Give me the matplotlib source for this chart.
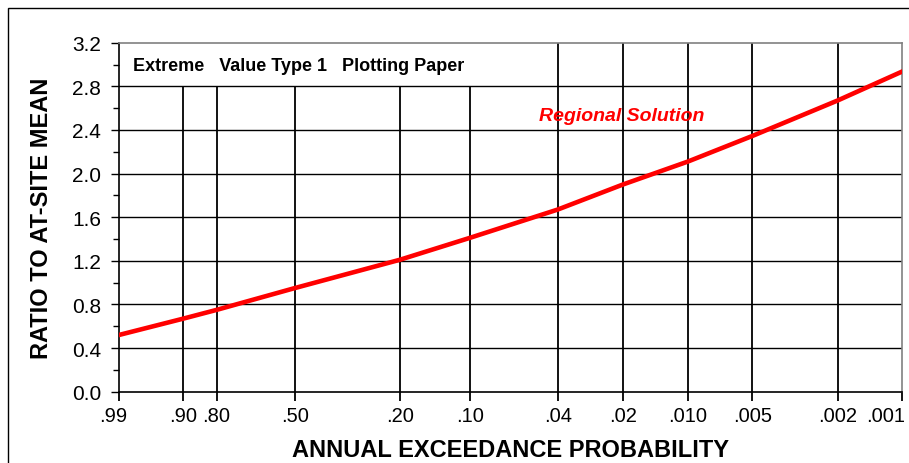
import numpy as np
import matplotlib.pyplot as plt
import matplotlib.transforms as mtransforms
from matplotlib.patches import Rectangle

plt.rcParams['font.family'] = ['Liberation Sans', 'DejaVu Sans']

# Annual exceedance probabilities shown on the paper
tick_probs = [0.99, 0.90, 0.80, 0.50, 0.20, 0.10, 0.04, 0.02, 0.010, 0.005, 0.002, 0.001]
tick_labels = ['.99', '.90', '.80', '.50', '.20', '.10', '.04', '.02', '.010', '.005', '.002', '.001']

# Regional growth curve (ratio to at-site mean) read at each probability
curve_probs = [0.99, 0.90, 0.80, 0.50, 0.20, 0.10, 0.04, 0.02, 0.010, 0.005, 0.002, 0.001]
curve_ratio = [0.52, 0.67, 0.75, 0.95, 1.21, 1.41, 1.67, 1.90, 2.11, 2.345, 2.67, 2.935]


def gumbel(p):
    """EV1 reduced variate for annual exceedance probability p."""
    p = np.asarray(p, dtype=float)
    return -np.log(-np.log(1.0 - p))


fig = plt.figure(figsize=(9.09, 4.64), dpi=100)
ax = fig.add_axes([0.1309, 0.1537, 0.8614, 0.7521])

xt = gumbel(tick_probs)
x_lo, x_hi = xt[0], xt[-1]

# horizontal grid
for yv in np.arange(0.4, 3.0, 0.4):
    ax.axhline(yv, color='black', lw=1.0, zorder=1)

# vertical grid, the left ones stop under the title box
for x, p in zip(xt[1:-1], tick_probs[1:-1]):
    top = 2.8 if p > 0.05 else 3.2
    ax.vlines(x, 0, top, color='black', lw=1.3, zorder=1)

ax.plot(gumbel(curve_probs), curve_ratio, color='#ff0000', lw=3.3, zorder=3)

ax.text(-1.376, 2.99, 'Extreme   Value Type 1   Plotting Paper', fontsize=13,
        fontweight='bold', va='center', ha='left')
ax.text(3.0, 2.53, 'Regional Solution', fontsize=14, fontweight='bold',
        fontstyle='italic', color='#ff0000', va='center', ha='left')

ax.set_xlim(x_lo, x_hi)
ax.set_ylim(0, 3.2)
ax.set_xticks(xt)
ax.set_xticklabels(tick_labels)
ax.set_yticks(np.arange(0, 3.21, 0.4))
ax.set_yticklabels([f'{v:.1f}' for v in np.arange(0, 3.21, 0.4)])
ax.set_yticks(np.arange(0.2, 3.2, 0.4), minor=True)

ax.tick_params(axis='x', direction='out', length=6.5, width=1.3, pad=4,
               labelsize=14.5)
ax.tick_params(axis='y', which='major', direction='out', length=5.8, width=1,
               pad=7, labelsize=15)
ax.tick_params(axis='y', which='minor', direction='out', length=4.3, width=1)

# nudge the end labels inward like the original
xlabels = ax.get_xticklabels()
for lab, dx in [(xlabels[0], -6), (xlabels[-1], -16)]:
    lab.set_transform(lab.get_transform() +
                      mtransforms.ScaledTranslation(dx / 100, 0, fig.dpi_scale_trans))

for s in ['left', 'bottom']:
    ax.spines[s].set_linewidth(1.2)
for s in ['top', 'right']:
    ax.spines[s].set_color('#808080')
    ax.spines[s].set_linewidth(1.2)

ax.set_xlabel('ANNUAL EXCEEDANCE PROBABILITY', fontsize=17, fontweight='bold',
              labelpad=9)
ax.set_ylabel('RATIO TO AT-SITE MEAN', fontsize=17, fontweight='bold',
              labelpad=14)

# outer chart frame
fig.patches.append(Rectangle((8 / 909, -0.05), 1.0, 0.9806 + 0.05,
                             transform=fig.transFigure, fill=False,
                             edgecolor='black', lw=1.0))

plt.savefig('out.png', dpi=100)
